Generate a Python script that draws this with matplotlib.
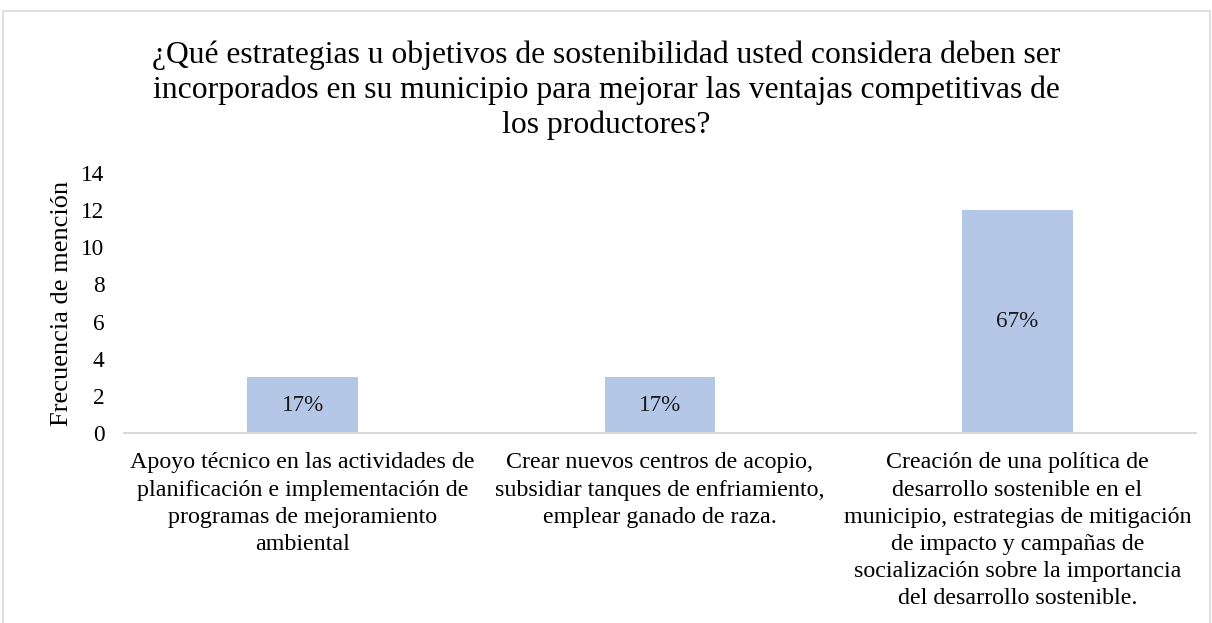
import matplotlib
matplotlib.use("Agg")
import matplotlib.pyplot as plt
from matplotlib.patches import Rectangle

categories = [
    "Apoyo técnico en las actividades de\nplanificación e implementación de\nprogramas de mejoramiento\nambiental",
    "Crear nuevos centros de acopio,\nsubsidiar tanques de enfriamiento,\nemplear ganado de raza.",
    "Creación de una política de\ndesarrollo sostenible en el\nmunicipio, estrategias de mitigación\nde impacto y campañas de\nsocialización sobre la importancia\ndel desarrollo sostenible.",
]
values = [3, 3, 12]
labels = ["17%", "17%", "67%"]
yticks = [0, 2, 4, 6, 8, 10, 12, 14]
title = ("¿Qué estrategias u objetivos de sostenibilidad usted considera deben ser\n"
         "incorporados en su municipio para mejorar las ventajas competitivas de\n"
         "los productores?")

plt.rcParams['font.family'] = ['Liberation Serif', 'DejaVu Serif']

fig = plt.figure(figsize=(12.12, 6.23), dpi=100)
fig.patches.append(Rectangle((3/1212, -0.1), (1210-3)/1212, 1 - 11/623 + 0.1,
                             transform=fig.transFigure, fill=False,
                             edgecolor='#D9D9D9', linewidth=1.2))

ax = fig.add_axes([124/1212, 1 - 433/623, (1196-124)/1212, (433-173)/623])
x = range(len(values))
bars = ax.bar(x, values, width=0.31, color='#B4C7E7')
ax.bar_label(bars, labels=labels, label_type='center', fontsize=16.7, color='#1a1a1a')
ax.set_xlim(-0.5, 2.5)
ax.set_ylim(0, 14)
ax.set_yticks(yticks)
ax.set_xticks(list(x))
ax.set_xticklabels(categories, fontsize=17.3, linespacing=1.38, va='top')
ax.tick_params(axis='y', labelsize=16.8, length=0, pad=14)
ax.tick_params(axis='x', length=0, pad=14)
for s in ['top', 'right', 'left']:
    ax.spines[s].set_visible(False)
ax.spines['bottom'].set_color('#D9D9D9')
ax.spines['bottom'].set_linewidth(1.5)
ax.set_ylabel("Frecuencia de mención", fontsize=19, labelpad=6)

fig.text(0.5, 1 - 41/623, title, ha='center', va='top', fontsize=22.8, linespacing=1.24)

fig.savefig("out.png", dpi=100)
